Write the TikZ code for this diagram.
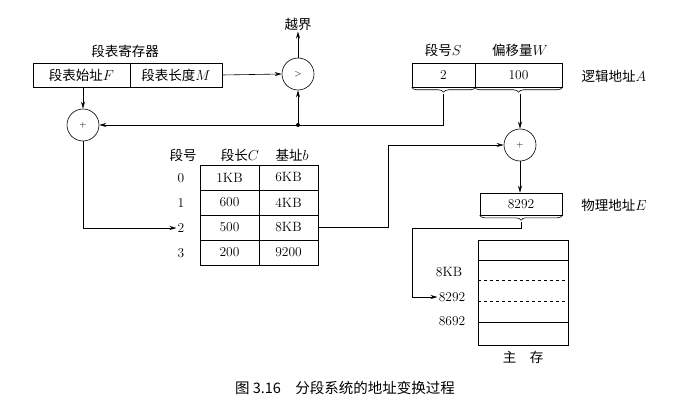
\documentclass[tikz,border=0pt]{standalone}
\usepackage{fontspec}
\usepackage{tikz}
\usetikzlibrary{arrows.meta,decorations.pathreplacing}
\newfontfamily\cjk{Noto Sans CJK SC}
\tikzstyle{cell}=[draw=black, inner sep=0pt, minimum height=24pt, font=\fontsize{13.5}{15}\selectfont]
\tikzstyle{op}=[draw=black, shape=circle, minimum size=32pt, inner sep=0pt, font=\small]
\tikzstyle{lbl}=[inner sep=1pt, font=\fontsize{13.5}{15}\selectfont]
\tikzstyle{arrow edge}=[-{Stealth[length=7pt,width=4pt]}]
\tikzstyle{brace edge}=[decorate, decoration={brace, mirror, amplitude=5pt}]

\begin{document}
\begin{tikzpicture}[x=1pt, y=-1pt, line width=0.6pt]
	\useasboundingbox[fill=white] (0,0) rectangle (687,417);
	% segment table register
	\node [style=cell, minimum width=97pt] (regF) at (81.5,75) {\cjk 段表始址$F$};
	\node [style=cell, minimum width=92pt] (regM) at (176,75) {\cjk 段表长度$M$};
	\node [style=lbl] (reglbl) at (125,51) {\cjk 段表寄存器};
	% comparators and adders
	\node [style=op] (cmp) at (298,74) {$>$};
	\node [style=lbl] (over) at (298,24) {\cjk 越界};
	\node [style=op] (addL) at (83,125) {$+$};
	\node [style=op] (addR) at (520,145) {$+$};
	\coordinate (dot) at (298,125);
	% logical address
	\node [style=cell, minimum width=63pt] (segS) at (443.5,75) {2};
	\node [style=cell, minimum width=87pt] (offW) at (518.5,75) {100};
	\node [style=lbl] (Slbl) at (443,50) {\cjk 段号$S$};
	\node [style=lbl] (Wlbl) at (520,50) {\cjk 偏移量$W$};
	\node [style=lbl] (Albl) at (614,76) {\cjk 逻辑地址$A$};
	\coordinate (Sb) at (443,94);
	\coordinate (Wb) at (520,94);
	% segment table
	\node [style=lbl] (hNo) at (183,155) {\cjk 段号};
	\node [style=lbl] (hC) at (240,155) {\cjk 段长$C$};
	\node [style=lbl] (hB) at (292,155) {\cjk 基址$b$};
	\node [style=cell, minimum width=59pt, minimum height=25pt] (c0) at (229.5,177.5) {1KB};
	\node [style=cell, minimum width=59pt, minimum height=25pt] (b0) at (288.5,177.5) {6KB};
	\node [style=cell, minimum width=59pt, minimum height=25pt] (c1) at (229.5,202.5) {600};
	\node [style=cell, minimum width=59pt, minimum height=25pt] (b1) at (288.5,202.5) {4KB};
	\node [style=cell, minimum width=59pt, minimum height=25pt] (c2) at (229.5,227.5) {500};
	\node [style=cell, minimum width=59pt, minimum height=25pt] (b2) at (288.5,227.5) {8KB};
	\node [style=cell, minimum width=59pt, minimum height=25pt] (c3) at (229.5,252.5) {200};
	\node [style=cell, minimum width=59pt, minimum height=25pt] (b3) at (288.5,252.5) {9200};
	\node [style=lbl] (n0) at (181,178) {0};
	\node [style=lbl] (n1) at (181,203) {1};
	\node [style=lbl] (n2) at (181,228) {2};
	\node [style=lbl] (n3) at (181,253) {3};
	% physical address
	\node [style=cell, minimum width=82pt, minimum height=22pt] (phys) at (521,204) {8292};
	\node [style=lbl] (Elbl) at (614,205) {\cjk 物理地址$E$};
	\coordinate (Eb) at (521,222);
	\coordinate (Eturn) at (412,228);
	% main memory
	\draw (478,240) rectangle (568,345);
	\draw (478,260) -- (568,260);
	\draw [dashed] (478,280) -- (568,280);
	\draw [dashed] (478,301) -- (568,301);
	\draw (478,322) -- (568,322);
	\node [style=lbl] (m8k) at (449,272) {8KB};
	\node [style=lbl] (m8292) at (452,297) {8292};
	\node [style=lbl] (m8692) at (452,321) {8692};
	\node [style=lbl] (mem) at (523,357) {\cjk 主\quad 存};
	\node [font=\fontsize{14.5}{16}\selectfont] (cap) at (345,388) {\cjk 图 3.16\quad 分段系统的地址变换过程};
	% connectors
	\draw [style=brace edge] (segS.south west) -- (segS.south east);
	\draw [style=brace edge] (offW.south west) -- (offW.south east);
	\draw [style=brace edge] (phys.south west) -- (phys.south east);
	\draw [style=arrow edge] (regM.east) -- (cmp.west);
	\draw [style=arrow edge] (cmp.north) -- (over.south);
	\draw [style=arrow edge] (regF.south -| addL) -- (addL.north);
	\draw [style=arrow edge] (Sb) |- (addL.east);
	\draw [style=arrow edge] (dot) -- (cmp.south);
	\fill (dot) circle (2pt);
	\draw [style=arrow edge] (Wb) -- (addR.north);
	\draw [style=arrow edge] (addL.south) |- (n2.west);
	\draw [style=arrow edge] (b2.east) -- (388,227.5) |- (addR.west);
	\draw [style=arrow edge] (addR.south) -- (phys.north -| addR);
	\draw [style=arrow edge] (Eb) |- (Eturn) |- (m8292.west);
\end{tikzpicture}
\end{document}
